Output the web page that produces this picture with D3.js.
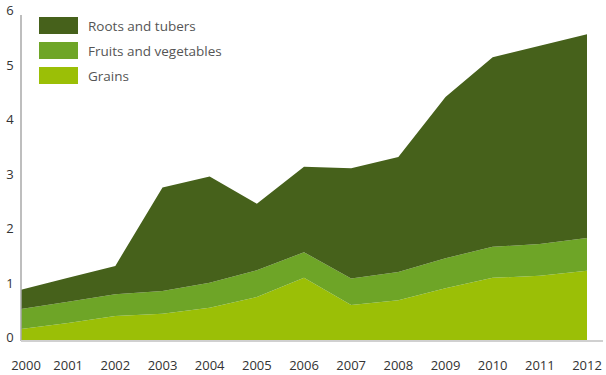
<!DOCTYPE html>
<html>
<head>
<meta charset="utf-8">
<script src="https://cdn.jsdelivr.net/npm/d3@7"></script>
<style>
  body { margin: 0; background: #fff; }
  svg text { font-family: "Open Sans", sans-serif; }
</style>
</head>
<body>
<div id="chart"></div>
<script>
// values (per category, stacked)
const years = [2000, 2001, 2002, 2003, 2004, 2005, 2006, 2007, 2008, 2009, 2010, 2011, 2012];
const grains = [0.2, 0.31, 0.44, 0.48, 0.59, 0.79, 1.14, 0.64, 0.73, 0.95, 1.14, 1.18, 1.27];
const fruitsVeg = [0.37, 0.39, 0.40, 0.42, 0.46, 0.49, 0.47, 0.49, 0.52, 0.55, 0.57, 0.58, 0.60];
const rootsTubers = [0.35, 0.44, 0.52, 1.90, 1.95, 1.22, 1.57, 2.02, 2.11, 2.96, 3.48, 3.64, 3.74];
const yTicks = [0, 1, 2, 3, 4, 5, 6];

const seriesNames = ["Grains", "Fruits and vegetables", "Roots and tubers"];
const colors = {
    "Grains": "#9bbf06",
    "Fruits and vegetables": "#6ea527",
    "Roots and tubers": "#46611b"
};

const W = 606, H = 375;
const x0 = 21, x1 = 587;
const yBase = 340, yTop = 13;

const table = years.map((yr, i) => ({
    year: yr,
    "Grains": grains[i],
    "Fruits and vegetables": fruitsVeg[i],
    "Roots and tubers": rootsTubers[i]
}));

const svg = d3.select("#chart").append("svg")
    .attr("width", W)
    .attr("height", H);

const x = d3.scaleLinear().domain([2000, 2012]).range([x0, x1]);
const y = d3.scaleLinear().domain([0, 6]).range([yBase, yTop]);

const stack = d3.stack().keys(seriesNames)(table);

const area = d3.area()
    .x(d => x(d.data.year))
    .y0(d => y(d[0]))
    .y1(d => y(d[1]));

svg.selectAll("path.layer")
    .data(stack)
    .enter().append("path")
    .attr("class", "layer")
    .attr("d", area)
    .attr("fill", d => colors[d.key]);

// axis lines
svg.append("line")
    .attr("x1", x0).attr("x2", x0)
    .attr("y1", 15).attr("y2", yBase + 1)
    .attr("stroke", "#a9a9a9").attr("stroke-width", 1.5);

svg.append("line")
    .attr("x1", x0).attr("x2", 603)
    .attr("y1", yBase + 1).attr("y2", yBase + 1)
    .attr("stroke", "#d0d0d0").attr("stroke-width", 2);

// y tick labels
svg.selectAll("text.ytick")
    .data(yTicks)
    .enter().append("text")
    .attr("class", "ytick")
    .attr("x", 10)
    .attr("y", d => y(d) - 3)
    .attr("text-anchor", "middle")
    .attr("dominant-baseline", "central")
    .attr("font-size", 13)
    .attr("fill", "#333")
    .text(d => d);

// x tick labels
svg.selectAll("text.xtick")
    .data(years)
    .enter().append("text")
    .attr("class", "xtick")
    .attr("x", d => d === 2000 ? x(d) + 5 : x(d))
    .attr("y", 365)
    .attr("text-anchor", "middle")
    .attr("dominant-baseline", "central")
    .attr("font-size", 13)
    .attr("fill", "#333")
    .text(d => d);

// legend
const legendOrder = ["Roots and tubers", "Fruits and vegetables", "Grains"];
const leg = svg.selectAll("g.legend")
    .data(legendOrder)
    .enter().append("g")
    .attr("class", "legend")
    .attr("transform", (d, i) => "translate(39," + (17 + i * 25) + ")");

leg.append("rect")
    .attr("width", 39)
    .attr("height", 17)
    .attr("fill", d => colors[d]);

leg.append("text")
    .attr("x", 49)
    .attr("y", 8.5)
    .attr("dominant-baseline", "central")
    .attr("font-size", 13.5)
    .attr("fill", "#555")
    .text(d => d);
</script>
</body>
</html>
